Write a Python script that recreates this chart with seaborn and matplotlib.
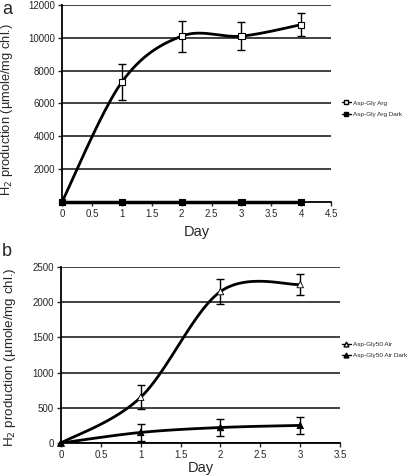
import numpy as np
import pandas as pd
import matplotlib
matplotlib.use("Agg")
import matplotlib.pyplot as plt
import seaborn as sns

# panel a data
days_a = [0, 1, 2, 3, 4]
arg = [0, 7300, 10100, 10100, 10800]
arg_err = [0, 1100, 950, 850, 720]
arg_dark = [0, 0, 0, 0, 0]

# panel b data
days_b = [0, 1, 2, 3]
air = [0, 650, 2150, 2250]
air_err = [0, 170, 175, 150]
air_dark = [0, 150, 220, 250]
air_dark_err = [0, 120, 120, 120]

sns.set_style("white")
plt.rcParams['font.family'] = ['Liberation Sans', 'DejaVu Sans']


def smooth(x, y, n=40):
    # catmull-rom like the "smoothed line" option in spreadsheets
    x = np.asarray(x, float)
    y = np.asarray(y, float)
    px = np.concatenate([[x[0]], x, [x[-1]]])
    py = np.concatenate([[y[0]], y, [y[-1]]])
    xs, ys = [], []
    t = np.linspace(0, 1, n)
    for i in range(1, len(px) - 2):
        for p, out in ((px, xs), (py, ys)):
            p0, p1, p2, p3 = p[i - 1], p[i], p[i + 1], p[i + 2]
            out.extend(0.5 * ((2 * p1) + (-p0 + p2) * t
                              + (2 * p0 - 5 * p1 + 4 * p2 - p3) * t ** 2
                              + (-p0 + 3 * p1 - 3 * p2 + p3) * t ** 3))
    return np.array(xs), np.array(ys)


def style_axes(ax):
    ax.grid(axis="y", color="#333333", linewidth=1.3)
    ax.grid(axis="x", visible=False)
    for s in ["top", "right"]:
        ax.spines[s].set_visible(False)
    for s in ["left", "bottom"]:
        ax.spines[s].set_color("black")
        ax.spines[s].set_linewidth(1.3)
    ax.tick_params(axis="both", direction="out", length=3, width=1,
                   labelsize=7, left=True, bottom=True, pad=2)
    ax.set_axisbelow(True)


fig = plt.figure(figsize=(4.16, 4.76), dpi=100)

# ---- panel a
ax1 = fig.add_axes([0.149, 0.5756, 0.647, 0.414])
style_axes(ax1)
sx, sy = smooth(days_a, arg)
ax1.plot(sx, sy, color="black", lw=2, zorder=3)
ax1.errorbar(days_a[1:], arg[1:], yerr=arg_err[1:], fmt="none", ecolor="black",
             elinewidth=1, capsize=3, capthick=1, zorder=4)
sx, sy = smooth(days_a, arg_dark)
ax1.plot(sx, sy, color="black", lw=2.5, zorder=3, clip_on=False)
df_a = pd.DataFrame({"Day": days_a + days_a, "H2": arg + arg_dark,
                     "series": ["Asp-Gly Arg"] * 5 + ["Asp-Gly Arg Dark"] * 5})
sns.scatterplot(data=df_a, x="Day", y="H2", hue="series", style="series",
                palette={"Asp-Gly Arg": "white", "Asp-Gly Arg Dark": "black"},
                markers={"Asp-Gly Arg": "s", "Asp-Gly Arg Dark": "s"},
                edgecolor="black", linewidth=0.8, s=20, zorder=5,
                clip_on=False, legend=False, ax=ax1)
ax1.set_xlim(0, 4.5)
ax1.set_ylim(0, 12000)
ax1.set_xticks(np.arange(0, 4.51, 0.5))
ax1.set_xticklabels(["0", "0.5", "1", "1.5", "2", "2.5", "3", "3.5", "4", "4.5"])
ax1.set_yticks(range(2000, 12001, 2000))
ax1.set_xlabel("Day", fontsize=10.5, labelpad=4)
ax1.set_ylabel("H$_2$ production (µmole/mg chl.)", fontsize=9.3)
ax1.yaxis.set_label_coords(-0.175, 0.47)
h1 = [plt.Line2D([], [], color="black", lw=1, marker="s", ms=3.5, mfc="white", mec="black"),
      plt.Line2D([], [], color="black", lw=1, marker="s", ms=3.5, mfc="black", mec="black")]
fig.legend(h1, ["Asp-Gly Arg", "Asp-Gly Arg Dark"], loc="upper left",
           bbox_to_anchor=(0.815, 0.795), frameon=False, fontsize=4.6,
           handlelength=1.5, handletextpad=0.3, labelspacing=0.9,
           borderaxespad=0)

# ---- panel b
ax2 = fig.add_axes([0.1466, 0.0693, 0.671, 0.370])
style_axes(ax2)
sx, sy = smooth(days_b, air)
ax2.plot(sx, sy, color="black", lw=2, zorder=3)
sx, sy = smooth(days_b, air_dark)
ax2.plot(sx, sy, color="black", lw=2, zorder=3)
ax2.errorbar(days_b[1:], air[1:], yerr=air_err[1:], fmt="none", ecolor="black",
             elinewidth=1, capsize=3, capthick=1, zorder=4)
ax2.errorbar(days_b[1:], air_dark[1:], yerr=air_dark_err[1:], fmt="none",
             ecolor="black", elinewidth=1, capsize=3, capthick=1, zorder=4)
df_b = pd.DataFrame({"Day": days_b + days_b, "H2": air + air_dark,
                     "series": ["Asp-Gly50 Air"] * 4 + ["Asp-Gly50 Air Dark"] * 4})
sns.scatterplot(data=df_b, x="Day", y="H2", hue="series", style="series",
                palette={"Asp-Gly50 Air": "white", "Asp-Gly50 Air Dark": "black"},
                markers={"Asp-Gly50 Air": "^", "Asp-Gly50 Air Dark": "^"},
                edgecolor="black", linewidth=0.6, s=22, zorder=5,
                clip_on=False, legend=False, ax=ax2)
ax2.set_xlim(0, 3.5)
ax2.set_ylim(0, 2500)
ax2.set_xticks(np.arange(0, 3.51, 0.5))
ax2.set_xticklabels(["0", "0.5", "1", "1.5", "2", "2.5", "3", "3.5"])
ax2.set_yticks(range(0, 2501, 500))
ax2.set_xlabel("Day", fontsize=10.5, labelpad=1)
ax2.set_ylabel("H$_2$ production (µmole/mg chl.)", fontsize=9.6)
ax2.yaxis.set_label_coords(-0.155, 0.49)
h2 = [plt.Line2D([], [], color="black", lw=1, marker="^", ms=3.5, mfc="white", mec="black"),
      plt.Line2D([], [], color="black", lw=1, marker="^", ms=3.5, mfc="black", mec="black")]
fig.legend(h2, ["Asp-Gly50 Air", "Asp-Gly50 Air Dark"], loc="upper left",
           bbox_to_anchor=(0.815, 0.288), frameon=False, fontsize=4.6,
           handlelength=1.5, handletextpad=0.3, labelspacing=0.9,
           borderaxespad=0)

fig.text(0.005, 0.998, "a", fontsize=13, va="top", ha="left")
fig.text(0.005, 0.49, "b", fontsize=13, va="top", ha="left")

plt.savefig("out.png", dpi=100)
